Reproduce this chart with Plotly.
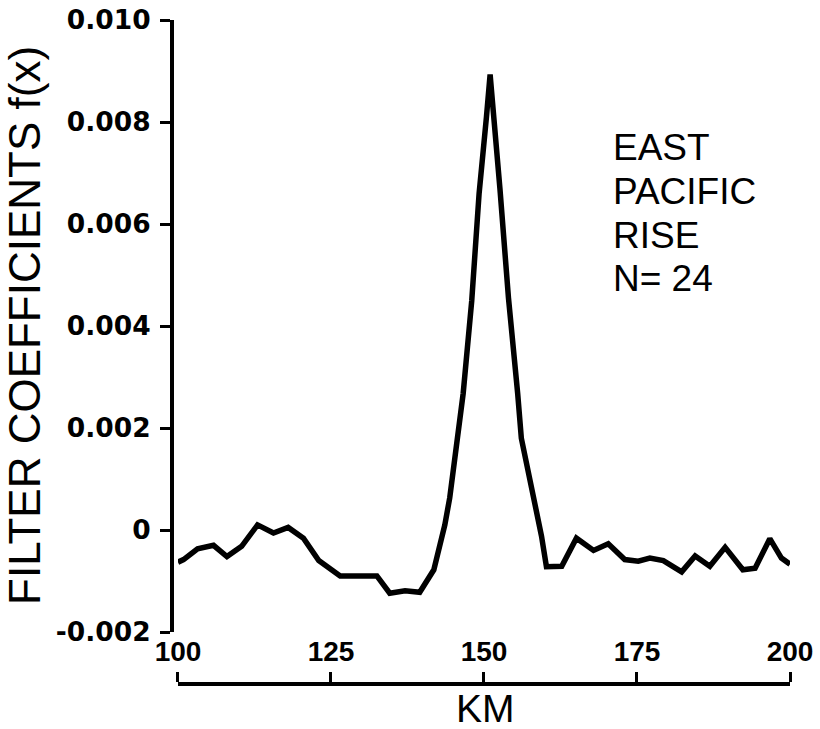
import plotly.graph_objects as go

# Filter coefficients across the ridge profile (distance in km)
km = [100.0, 100.9, 103.2, 105.8, 108.0, 110.4, 113.0, 115.6, 118.0, 120.5,
      123.0, 124.8, 126.5, 132.5, 134.6, 137.1, 139.5, 141.8, 143.6, 144.4,
      146.6, 148.0, 149.2, 150.4, 151.0, 152.6, 154.0, 155.5, 156.1, 159.4,
      160.2, 162.7, 165.1, 167.9, 170.3, 173.0, 175.2, 177.1, 179.3, 182.3,
      184.5, 186.9, 189.4, 192.3, 194.3, 196.7, 198.6, 200.0]
coef = [-0.00063, -0.00058, -0.00037, -0.00030, -0.00052, -0.00032, 0.00010, -0.00006, 0.00005, -0.00016,
        -0.00060, -0.00074, -0.00090, -0.00090, -0.00124, -0.00119, -0.00122, -0.00078, 0.00010, 0.00063,
        0.00268, 0.00450, 0.00660, 0.00810, 0.00893, 0.00670, 0.00455, 0.00268, 0.00180, -0.00012,
        -0.00072, -0.00071, -0.00016, -0.00040, -0.00027, -0.00058, -0.00061, -0.00055, -0.00060, -0.00082,
        -0.00051, -0.00071, -0.00034, -0.00078, -0.00075, -0.00017, -0.00055, -0.00067]

y_ticks = [-0.002, 0.0, 0.002, 0.004, 0.006, 0.008, 0.010]
y_labels = ["-0.002", "0", "0.002", "0.004", "0.006", "0.008", "0.010"]
x_ticks = [100, 125, 150, 175, 200]
x_labels = ["100", "125", "150", "175", "200"]
legend_lines = ["EAST", "PACIFIC", "RISE", "N= 24"]

FONT = "Liberation Sans, Arial, sans-serif"

fig = go.Figure()
fig.add_trace(go.Scatter(
    x=km, y=coef, mode="lines",
    line=dict(color="black", width=5.5),
    hoverinfo="skip", showlegend=False,
))

annotations = [
    dict(text="FILTER COEFFICIENTS f(x)", xref="paper", yref="paper",
         x=-0.238, y=0.5407, xanchor="center", yanchor="middle",
         textangle=-90, showarrow=False,
         font=dict(family=FONT, size=44, color="black")),
    dict(text="KM", xref="paper", yref="paper",
         x=0.507, y=-0.037, xanchor="center", yanchor="middle",
         showarrow=False,
         font=dict(family=FONT, size=39, color="black")),
]
# label block at upper right, one line per annotation
for i, line in enumerate(legend_lines):
    annotations.append(dict(
        text=line, xref="paper", yref="paper",
        x=0.71, y=(684 - 148 - 43.5 * i) / 664, xanchor="left", yanchor="middle",
        showarrow=False,
        font=dict(family=FONT, size=37, color="black"),
    ))

fig.update_layout(
    width=820, height=729,
    margin=dict(l=172, r=30, t=20, b=45),
    paper_bgcolor="white", plot_bgcolor="white",
    xaxis=dict(
        domain=[0.0097, 1.0], range=[100, 200],
        anchor="free", position=0, side="top", automargin=False,
        tickvals=x_ticks, ticktext=x_labels,
        ticks="outside", ticklen=10, tickwidth=3, tickcolor="black",
        showline=True, linewidth=4, linecolor="black",
        showgrid=False, zeroline=False,
        tickfont=dict(family=FONT, size=28, color="black", weight="bold"),
    ),
    yaxis=dict(
        domain=[0.0783, 1.0], range=[-0.002, 0.010],
        anchor="free", position=0, automargin=False,
        tickvals=y_ticks, ticktext=y_labels,
        ticks="outside", ticklen=10, tickwidth=3, tickcolor="black",
        showline=True, linewidth=4, linecolor="black",
        showgrid=False, zeroline=False, ticklabelstandoff=4,
        tickfont=dict(family="DejaVu Sans, sans-serif", size=26.5,
                      color="black", weight="bold"),
    ),
    annotations=annotations,
)

fig.write_html("out.html")
